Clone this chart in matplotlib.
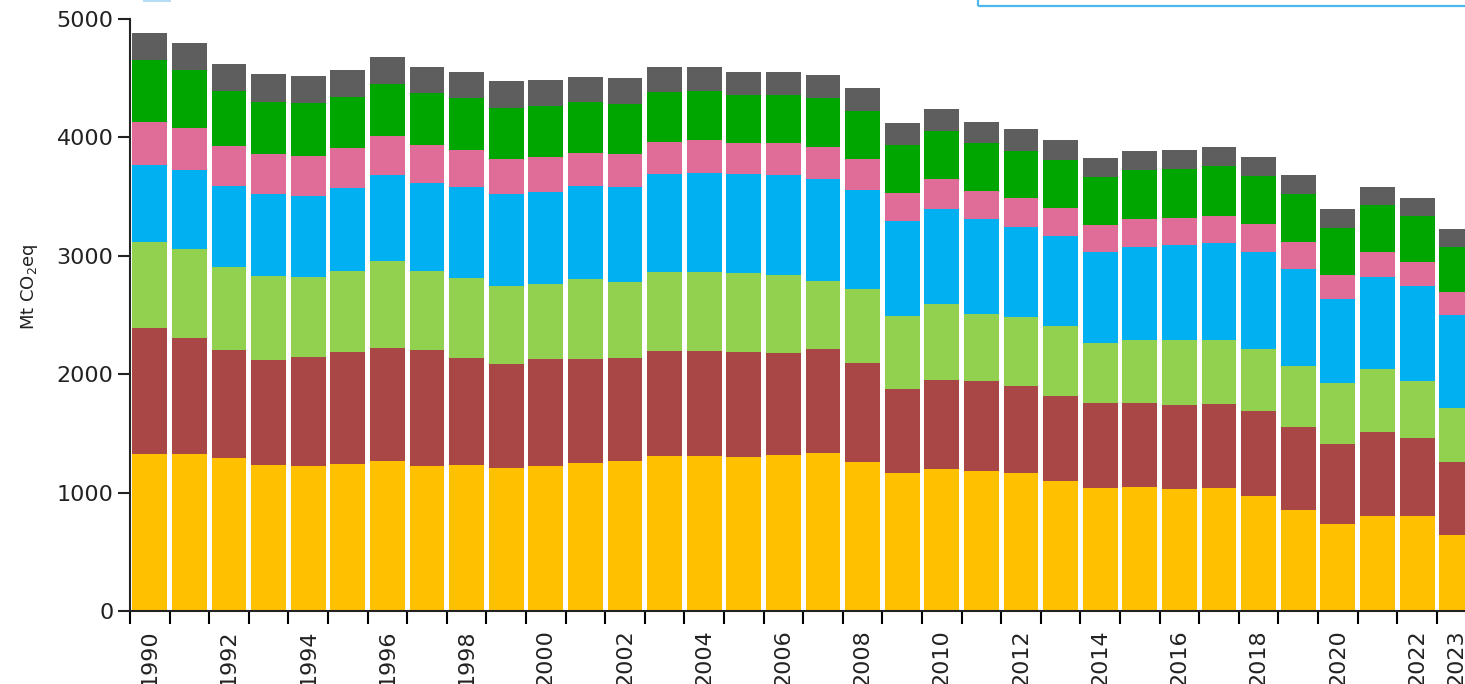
import numpy as np
import matplotlib
matplotlib.use('Agg')
import matplotlib.pyplot as plt
from matplotlib.patches import Rectangle

# years shown on the x axis
years = list(range(1990, 2024))

# emissions per sector, Mt CO2eq (bottom to top)
energy_supply = [1326, 1326, 1292, 1233, 1227, 1242, 1269, 1227, 1233, 1210,
                 1225, 1247, 1267, 1312, 1309, 1303, 1318, 1337, 1261, 1163,
                 1197, 1182, 1163, 1101, 1036, 1050, 1030, 1039, 971, 853,
                 735, 805, 805, 642]
industry = [1062, 977, 912, 887, 921, 948, 955, 974, 906, 873,
            901, 879, 867, 886, 889, 882, 858, 873, 831, 715,
            754, 761, 737, 717, 718, 704, 710, 709, 718, 699,
            675, 709, 659, 619]
buildings = [726, 754, 704, 712, 670, 679, 735, 673, 676, 662,
             636, 676, 647, 668, 663, 667, 662, 577, 628, 614,
             639, 565, 581, 592, 512, 535, 549, 541, 524, 517,
             513, 530, 481, 456]
transport = [653, 668, 682, 690, 690, 701, 723, 738, 763, 777,
             780, 790, 803, 822, 841, 836, 844, 859, 836, 805,
             808, 800, 765, 760, 763, 783, 799, 816, 819, 820,
             710, 774, 800, 783]
processes = [366, 352, 337, 335, 337, 338, 330, 324, 316, 296,
             293, 279, 276, 276, 276, 262, 274, 276, 262, 236,
             248, 242, 245, 231, 231, 236, 231, 234, 237, 225,
             202, 217, 205, 194]
agriculture = [521, 492, 468, 445, 448, 431, 439, 436, 436, 433,
               430, 425, 422, 417, 411, 406, 400, 408, 405, 403,
               408, 400, 397, 405, 408, 414, 412, 417, 405, 405,
               403, 392, 386, 383]
waste = [225, 231, 225, 231, 226, 230, 228, 225, 222, 225,
         220, 217, 217, 211, 203, 199, 199, 194, 192, 183,
         183, 177, 180, 169, 161, 161, 163, 163, 161, 163,
         155, 157, 155, 149]

series = [energy_supply, industry, buildings, transport, processes, agriculture, waste]
colors = ['#FFC000', '#A84746', '#92D050', '#00B0F0', '#E06C98', '#00A600', '#5E5E5E']

# figure sized to the reference (1465 x 684 px)
fig = plt.figure(figsize=(14.65, 6.84), dpi=100)
ax = fig.add_axes([130 / 1465, 73 / 684, 1335 / 1465, 592 / 684])

x = np.arange(len(years))
bottom = np.zeros(len(years))
for values, color in zip(series, colors):
    ax.bar(x, values, width=0.88, bottom=bottom, color=color, linewidth=0)
    bottom += np.array(values)

ax.set_ylim(0, 5000)
ax.set_xlim(-0.5, 33.21)

# y axis
ax.set_yticks(range(0, 5001, 1000))
ax.tick_params(axis='y', length=9, width=1.5, pad=3, labelsize=16, colors='#222222')

# x axis: tick marks between bars, labels under the bars
ax.set_xticks(x - 0.5)
ax.set_xticklabels([])
ax.tick_params(axis='x', which='major', length=9, width=1.5)
label_idx = [i for i, y in enumerate(years) if y % 2 == 0 or y == 2023]
ax.set_xticks([x[i] for i in label_idx], minor=True)
ax.set_xticklabels([str(years[i]) for i in label_idx], minor=True, rotation=90)
ax.tick_params(axis='x', which='minor', length=0, pad=13, labelsize=16, labelcolor='#222222')

for side in ['top', 'right']:
    ax.spines[side].set_visible(False)
for side in ['left', 'bottom']:
    ax.spines[side].set_linewidth(1.5)
    ax.spines[side].set_color('#222222')

fig.text(29 / 1465, 1 - 287 / 684, 'Mt CO$_2$eq', rotation=90, ha='center', va='center',
         fontsize=13, color='#222222')

# bits of the legend that are cut off at the top
fig.add_artist(Rectangle((143 / 1465, 1 - 2 / 684), 28 / 1465, 0.02, transform=fig.transFigure,
                         facecolor='#B5DDF5', edgecolor='none', clip_on=False))
fig.add_artist(Rectangle((978 / 1465, 1 - 5.5 / 684), 500 / 1465, 0.05, transform=fig.transFigure,
                         fill=False, edgecolor='#4DB6EA', linewidth=1.6, clip_on=False))

plt.savefig('out.png', dpi=100)
